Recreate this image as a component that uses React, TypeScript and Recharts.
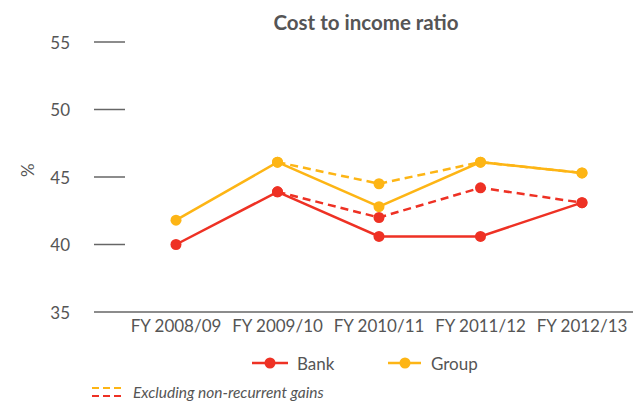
import React from 'react';
import { LineChart, Line, XAxis, YAxis, Legend, Label } from 'recharts';

const categories = ['FY 2008/09', 'FY 2009/10', 'FY 2010/11', 'FY 2011/12', 'FY 2012/13'];
const bank = [40.0, 43.9, 40.6, 40.6, 43.1];
const group = [41.8, 46.1, 42.8, 46.1, 45.3];
const bankExcl = [null, 43.9, 42.0, 44.2, 43.1];
const groupExcl = [null, 46.1, 44.5, 46.1, 45.3];
const yTicks = [35, 40, 45, 50, 55];

const data = categories.map((c, i) => ({
  name: c,
  bank: bank[i],
  group: group[i],
  bankExcl: bankExcl[i],
  groupExcl: groupExcl[i],
}));

const RED = '#EE3124';
const YELLOW = '#FDB515';
const TEXT = '#555555';
const FONT = 'Lato, sans-serif';

const YTick = (props: any) => {
  const { y, payload } = props;
  return (
    <g>
      <text x={70} y={y} textAnchor="end" dominantBaseline="central" fill={TEXT} fontSize={17} fontFamily={FONT}>
        {payload.value}
      </text>
      {payload.value !== 35 && (
        <line x1={94} x2={125} y1={y} y2={y} stroke="#666" strokeWidth={1.5} />
      )}
    </g>
  );
};

const LegendContent = () => (
  <svg width={633} height={57} style={{ display: 'block' }}>
    <line x1={252} x2={288} y1={18} y2={18} stroke={RED} strokeWidth={2.5} />
    <circle cx={270} cy={18} r={5.5} fill={RED} />
    <text x={297} y={18} dominantBaseline="central" fill={TEXT} fontSize={17} fontFamily={FONT}>Bank</text>
    <line x1={388} x2={421} y1={18} y2={18} stroke={YELLOW} strokeWidth={2.5} />
    <circle cx={405} cy={18} r={5.5} fill={YELLOW} />
    <text x={431} y={18} dominantBaseline="central" fill={TEXT} fontSize={17} fontFamily={FONT}>Group</text>
    <line x1={92} x2={122} y1={43} y2={43} stroke={YELLOW} strokeWidth={2} strokeDasharray="7 4" />
    <line x1={92} x2={122} y1={51} y2={51} stroke={RED} strokeWidth={2} strokeDasharray="7 4" />
    <text x={133} y={47} dominantBaseline="central" fill={TEXT} fontSize={15.5} fontStyle="italic" fontFamily={FONT}>
      Excluding non-recurrent gains
    </text>
  </svg>
);

export default function App() {
  return (
    <div style={{ position: 'absolute', left: 0, top: 0, width: 633, height: 402, background: '#fff' }}>
      <svg width={633} height={40} style={{ position: 'absolute', left: 0, top: 0 }}>
        <text x={366} y={22} textAnchor="middle" dominantBaseline="central" fill={TEXT} fontSize={20.5} fontWeight="bold" fontFamily={FONT}>
          Cost to income ratio
        </text>
      </svg>
      <LineChart width={633} height={402} data={data} margin={{ top: 42, right: 0, bottom: 0, left: 0 }} style={{ position: 'absolute', left: 0, top: 0 }}>
        <XAxis
          dataKey="name"
          padding={{ left: 82, right: 51 }}
          axisLine={{ stroke: '#666', strokeWidth: 1.5 }}
          tickLine={false}
          tick={{ fill: TEXT, fontSize: 17, fontFamily: FONT }}
          interval={0}
          height={33}
        />
        <YAxis
          domain={[35, 55]}
          ticks={yTicks}
          width={94}
          axisLine={false}
          tickLine={false}
          tick={<YTick />}
        >
          <Label value="%" angle={-90} position="insideLeft" offset={28} fill={TEXT} fontSize={17} fontFamily={FONT} />
        </YAxis>
        <Legend
          content={<LegendContent />}
          wrapperStyle={{ position: 'absolute', left: 0, top: 345, width: 633, height: 57 }}
        />
        <Line type="linear" dataKey="groupExcl" stroke={YELLOW} strokeWidth={2.5} strokeDasharray="8 5" dot={{ r: 5.5, fill: YELLOW, stroke: YELLOW, strokeWidth: 0 }} isAnimationActive={false} connectNulls={false} />
        <Line type="linear" dataKey="bankExcl" stroke={RED} strokeWidth={2.5} strokeDasharray="8 5" dot={{ r: 5.5, fill: RED, stroke: RED, strokeWidth: 0 }} isAnimationActive={false} connectNulls={false} />
        <Line type="linear" dataKey="group" stroke={YELLOW} strokeWidth={2.5} dot={{ r: 5.5, fill: YELLOW, stroke: YELLOW, strokeWidth: 0 }} isAnimationActive={false} />
        <Line type="linear" dataKey="bank" stroke={RED} strokeWidth={2.5} dot={{ r: 5.5, fill: RED, stroke: RED, strokeWidth: 0 }} isAnimationActive={false} />
      </LineChart>
    </div>
  );
}
